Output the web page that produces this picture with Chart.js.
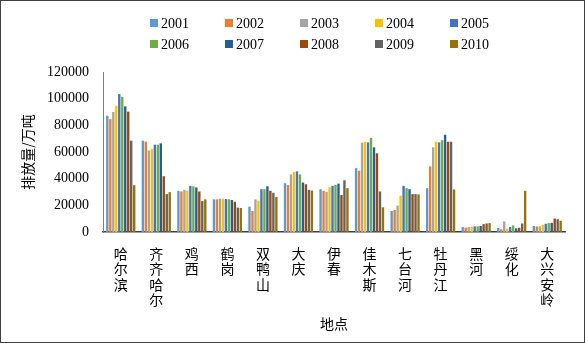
<!DOCTYPE html>
<html>
<head>
<meta charset="utf-8">
<script src="https://cdn.jsdelivr.net/npm/chart.js@4/dist/chart.umd.min.js"></script>
<style>
  body { margin: 0; background: #fff; }
  #wrap { width: 585px; height: 343px; border: 1px solid #404040; box-sizing: border-box; }
  canvas { display: block; }
</style>
</head>
<body>
<div id="wrap"><canvas id="emission" width="583" height="341"></canvas></div>
<script>
// Cities (x axis), one vertical label each
const cities = ['哈尔滨', '齐齐哈尔', '鸡西', '鹤岗', '双鸭山', '大庆', '伊春', '佳木斯', '七台河', '牡丹江', '黑河', '绥化', '大兴安岭'];
const years = ['2001', '2002', '2003', '2004', '2005', '2006', '2007', '2008', '2009', '2010'];

// Emissions per year, in city order (万吨)
const y2001 = [87200, 68500, 30900, 24500, 19000, 36600, 32100, 47900, 15800, 32900, 3700, 3000, 4500];
const y2002 = [84700, 67800, 30400, 24500, 15800, 35300, 30900, 45900, 16500, 49200, 3200, 2000, 4200];
const y2003 = [90000, 61100, 31600, 25000, 24500, 43200, 30100, 67000, 19800, 63500, 3700, 7900, 4200];
const y2004 = [94700, 62300, 31100, 25000, 23500, 45000, 33600, 67700, 27200, 67700, 4000, 2500, 5400];
const y2005 = [103400, 65500, 34600, 24700, 32100, 45500, 34600, 67200, 34600, 67200, 4200, 3700, 6200];
const y2006 = [101400, 65500, 34300, 24500, 32100, 43200, 35300, 70600, 32900, 68900, 4200, 4900, 6700];
const y2007 = [94200, 66500, 33400, 24000, 34300, 37100, 36300, 63500, 32100, 72900, 4500, 2700, 6900];
const y2008 = [90300, 41800, 30400, 22700, 30900, 35800, 27700, 59000, 28400, 67700, 5900, 3200, 10100];
const y2009 = [68500, 28400, 23200, 18300, 29400, 31600, 38800, 30400, 28400, 67700, 6400, 6400, 9600];
const y2010 = [35100, 29900, 24500, 18000, 26200, 31100, 32900, 18500, 28200, 31900, 6700, 30900, 8400];

const yTicks = [0, 20000, 40000, 60000, 80000, 100000, 120000];

const seriesValues = [y2001, y2002, y2003, y2004, y2005, y2006, y2007, y2008, y2009, y2010];
const seriesColors = ['#5B9BD5', '#ED7D31', '#A5A5A5', '#FFC000', '#4472C4', '#70AD47', '#255E91', '#9E480E', '#636363', '#997300'];

const serif = "'Liberation Serif', 'Noto Sans CJK SC', serif";
const cjk = "'Noto Sans CJK SC', sans-serif";

// Legend in two rows of five, like the original
const gridLegend = {
    id: 'gridLegend',
    afterDraw(chart) {
        const ctx = chart.ctx;
        ctx.save();
        ctx.font = '14px ' + serif;
        ctx.textBaseline = 'middle';
        chart.data.datasets.forEach((ds, i) => {
            const x = 149 + (i % 5) * 75;
            const y = 22 + Math.floor(i / 5) * 21;
            ctx.fillStyle = ds.backgroundColor;
            ctx.fillRect(x, y - 4, 8, 8);
            ctx.fillStyle = '#000';
            ctx.fillText(ds.label, x + 11, y + 1);
        });
        ctx.restore();
    }
};

new Chart(document.getElementById('emission'), {
    type: 'bar',
    data: {
        labels: cities.map(c => c.split('')),
        datasets: years.map((yr, i) => ({
            label: yr,
            data: seriesValues[i],
            backgroundColor: seriesColors[i],
            borderWidth: 0,
            categoryPercentage: 0.84,
            barPercentage: 0.8
        }))
    },
    options: {
        responsive: false,
        animation: false,
        layout: { padding: { top: 71, left: 14, right: 19, bottom: 6 } },
        plugins: {
            legend: { display: false },
            tooltip: { enabled: false }
        },
        scales: {
            x: {
                grid: { display: false, drawTicks: false },
                border: { color: '#404040', width: 1.5 },
                ticks: {
                    color: '#000',
                    padding: 14,
                    maxRotation: 0,
                    autoSkip: false,
                    font: { family: cjk, size: 14, lineHeight: 1.1 }
                },
                title: {
                    display: true,
                    text: '地点',
                    color: '#000',
                    font: { family: cjk, size: 14 }
                },
                afterFit(scale) { scale.height = 104; }
            },
            y: {
                min: 0,
                max: 120000,
                afterBuildTicks(scale) { scale.ticks = yTicks.map(v => ({ value: v })); },
                grid: { display: false, drawTicks: false },
                border: { color: '#7f7f7f', width: 1 },
                ticks: {
                    color: '#000',
                    padding: 14,
                    font: { family: serif, size: 14 },
                    callback: v => String(v)
                },
                title: {
                    display: true,
                    text: '排放量/万吨',
                    color: '#000',
                    font: { family: cjk, size: 14 }
                },
                afterFit(scale) { scale.width = 88; }
            }
        }
    },
    plugins: [gridLegend]
});
</script>
</body>
</html>
